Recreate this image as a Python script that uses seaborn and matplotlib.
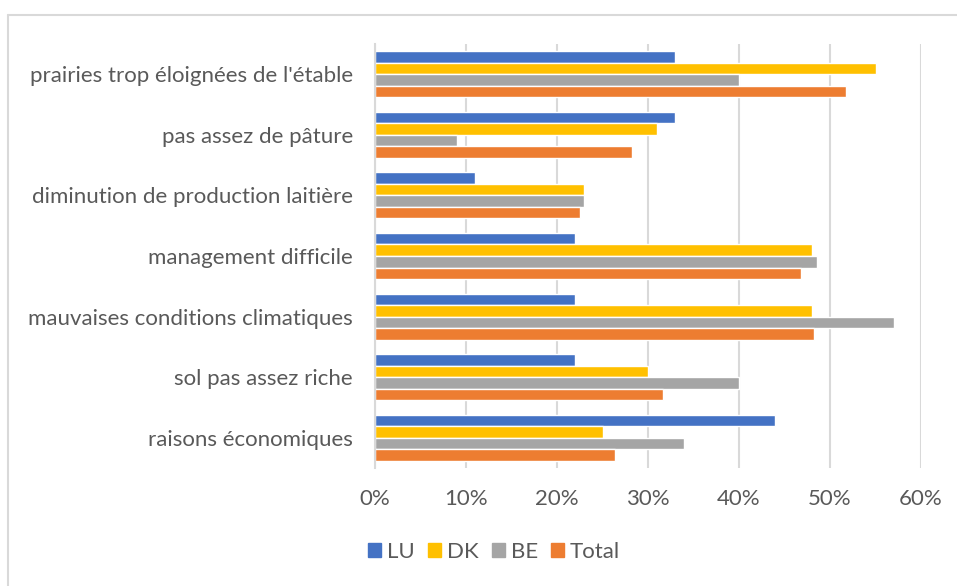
import pandas as pd
import seaborn as sns
import matplotlib.pyplot as plt
from matplotlib.lines import Line2D
from matplotlib.ticker import PercentFormatter


categories = [
    "prairies trop éloignées de l'étable",
    'pas assez de pâture',
    'diminution de production laitière',
    'management difficile',
    'mauvaises conditions climatiques',
    'sol pas assez riche',
    'raisons économiques',
]
lu = [33.0, 33.0, 11.0, 22.0, 22.0, 22.0, 44.0]
dk = [55.0, 31.0, 23.0, 48.0, 48.0, 30.0, 25.0]
be = [40.0, 9.0, 23.0, 48.6, 57.0, 40.0, 34.0]
total = [51.8, 28.2, 22.5, 46.8, 48.2, 31.7, 26.4]
series = ['LU', 'DK', 'BE', 'Total']
colors = ['#4472C4', '#FFC000', '#A5A5A5', '#ED7D31']
x_ticks = [0, 10, 20, 30, 40, 50, 60]

TEXT = '#595959'
GRID = '#D9D9D9'
FS = 16


def build_frame():
    rows = []
    for name, vals in zip(series, [lu, dk, be, total]):
        for cat, v in zip(categories, vals):
            rows.append({'raison': cat, 'pays': name, 'pct': v})
    return pd.DataFrame(rows)


df = build_frame()

sns.set_style('white')
plt.rcParams['font.family'] = ['Lato', 'DejaVu Sans']

fig = plt.figure(figsize=(9.57, 5.86), dpi=100)
ax = fig.add_axes([375 / 957, 1 - 468 / 586, 546 / 957, 424 / 586])

sns.barplot(data=df, y='raison', x='pct', hue='pays', order=categories,
            hue_order=series, palette=colors, orient='h', width=0.76,
            gap=0, saturation=1, legend=False, ax=ax)

ax.set_xlim(0, 60)
ax.set_xticks(x_ticks)
ax.xaxis.set_major_formatter(PercentFormatter(decimals=0))
ax.grid(axis='x', color=GRID, linewidth=1.5)
ax.set_axisbelow(True)
for s in ['top', 'right', 'bottom']:
    ax.spines[s].set_visible(False)
ax.spines['left'].set_color(GRID)
ax.spines['left'].set_linewidth(1.5)
ax.tick_params(axis='both', length=0, labelsize=FS, colors=TEXT)
ax.tick_params(axis='x', pad=15)
ax.tick_params(axis='y', pad=16)
ax.set(xlabel='', ylabel='')

handles = [plt.Rectangle((0, 0), 1, 1, color=c) for c in colors]
fig.legend(handles, series, loc='center', bbox_to_anchor=(494 / 957, 1 - 552 / 586),
           ncol=4, frameon=False, handlelength=0.6, handleheight=0.6,
           handletextpad=0.25, columnspacing=0.6, fontsize=FS, labelcolor=TEXT)

# outer chart border (top and left only are visible)
fig.add_artist(Line2D([8 / 957, 1], [1 - 15 / 586, 1 - 15 / 586], color=GRID, lw=1.5))
fig.add_artist(Line2D([8 / 957, 8 / 957], [0, 1 - 15 / 586], color=GRID, lw=1.5))

fig.savefig('out.png', dpi=100)
